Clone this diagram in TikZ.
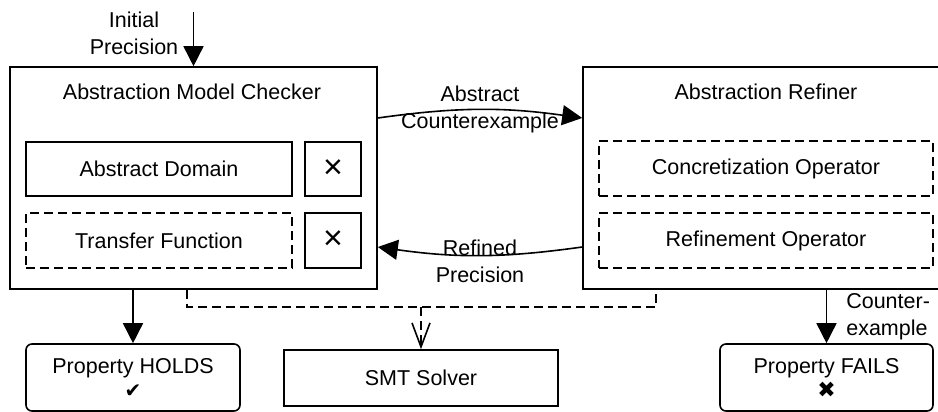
\documentclass[tikz,border=0pt]{standalone}
\usepackage{fontspec}
\setmainfont{Liberation Sans}
\newfontfamily\dejavu{DejaVu Sans}
\usetikzlibrary{arrows.meta,calc}
\begin{document}
\begin{tikzpicture}[x=1pt,y=-1pt,
  every node/.style={font=\fontsize{21.5}{27}\selectfont},
  box/.style={draw, line width=1.6pt, inner sep=0pt},
  dbox/.style={box, dash pattern=on 9pt off 5pt},
  rbox/.style={box, rounded corners=6pt},
  lbl/.style={align=center, inner sep=0pt},
  arr/.style={line width=1.6pt, -{Triangle[length=20pt,width=20pt]}},
  dsh/.style={line width=1.6pt, dash pattern=on 9pt off 5pt},
  xmark/.style={font=\fontsize{34}{34}\selectfont},
  sym/.style={font=\dejavu\fontsize{22}{22}\selectfont}
]
\clip (0,0) rectangle (938,412);
% big boxes
\node[box, minimum width=367pt, minimum height=222pt] (amc) at (193.5,178) {};
\node[box, minimum width=367pt, minimum height=222pt] (ar) at (766.5,178) {};
\node (t1) at (192,92) {Abstraction Model Checker};
\node (t2) at (766,92) {Abstraction Refiner};
% inner boxes
\node[box, minimum width=266pt, minimum height=54pt] (ad) at (159,169) {Abstract Domain};
\node[box, minimum width=56pt, minimum height=54pt, xmark] (x1) at (333,169) {×};
\node[dbox, minimum width=266pt, minimum height=55pt] (tf) at (159,240.5) {Transfer Function};
\node[box, minimum width=56pt, minimum height=55pt, xmark] (x2) at (333,240.5) {×};
\node[dbox, minimum width=334pt, minimum height=55pt] (co) at (766,168.5) {Concretization Operator};
\node[dbox, minimum width=334pt, minimum height=55pt] (ro) at (766,240.5) {Refinement Operator};
% bottom boxes
\node[box, minimum width=274pt, minimum height=56pt] (smt) at (421,378) {SMT Solver};
\node[rbox, minimum width=214pt, minimum height=67pt, align=center] (holds) at (133,377.5)
  {Property HOLDS\\[-3pt]{\dejavu\fontsize{20}{20}\selectfont ✔}};
\node[rbox, minimum width=213pt, minimum height=67pt, align=center] (fails) at (826.5,377.5)
  {Property FAILS\\[-3pt]{\dejavu\fontsize{22}{22}\selectfont ✖}};
% initial precision
\coordinate (ip) at (193.5,12);
\node[lbl] (iplbl) at (134,33) {Initial\\Precision};
\draw[arr] (ip) -- (amc.north);
% curved arrows
\draw[arr] ([yshift=60pt]amc.east) to[bend left=8]
  node[lbl] {Abstract\\Counterexample} ([yshift=60pt]ar.west);
\draw[arr] ([yshift=-69pt]ar.west) to[bend left=8]
  node[lbl, yshift=-6pt] {Refined\\Precision} ([yshift=-69pt]amc.east);
% result arrows
\draw[arr] (holds.north |- amc.south) -- (holds.north);
\draw[arr] (fails.north |- ar.south) -- (fails.north)
  node[midway, right, align=left, inner sep=0pt, xshift=19pt] {Counter-\\example};
% dashed SMT bus
\coordinate (bus) at (421,307);
\draw[dsh] ([xshift=-6.5pt]amc.south) |- (bus) -| ([xshift=-110.5pt]ar.south);
\draw[dsh, -{Straight Barb[length=24pt,width=18pt]}] (bus) -- (smt.north);
\end{tikzpicture}
\end{document}
